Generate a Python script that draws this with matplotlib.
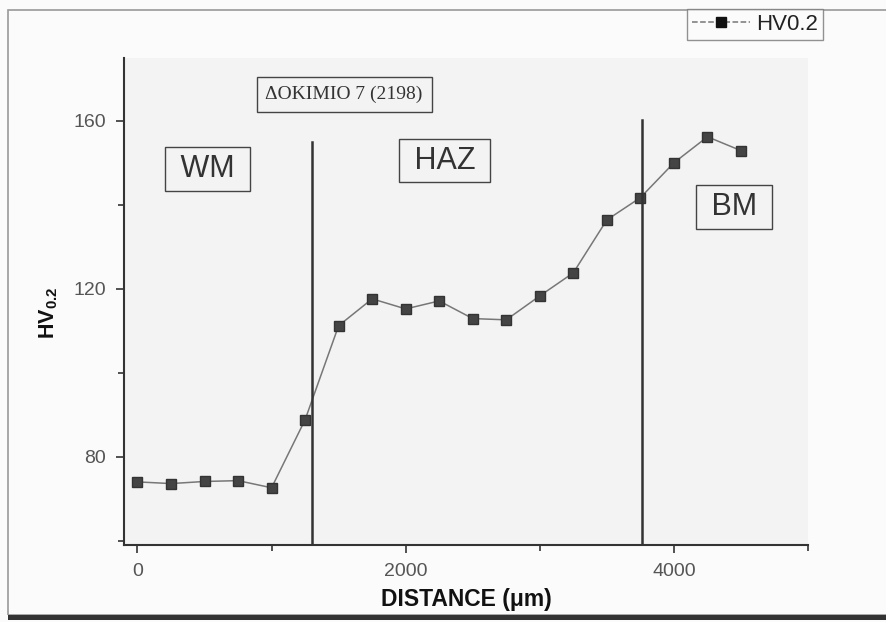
import numpy as np
import matplotlib
matplotlib.use("Agg")
import matplotlib.pyplot as plt
from matplotlib.ticker import MultipleLocator

# data
distance = [0, 250, 500, 750, 1000, 1250, 1500, 1750, 2000, 2250,
            2500, 2750, 3000, 3250, 3500, 3750, 4000, 4250, 4500]
hv = [74.0, 73.6, 74.1, 74.3, 72.6, 88.8, 111.2, 117.6, 115.2, 117.1,
      112.9, 112.6, 118.3, 123.8, 136.4, 141.7, 150.0, 156.2, 152.9]
zone_bounds = [1300, 3760]
zone_tops = [155, 160.3]
zone_names = ["WM", "HAZ", "BM"]
zone_label_x = [522, 2291, 4448]
zone_label_y = [148.5, 150.5, 139.5]
sample_title = "ΔOKIMIO 7 (2198)"

plt.rcParams['font.family'] = ['Liberation Sans', 'DejaVu Sans']

fig = plt.figure(figsize=(8.86, 6.22), dpi=100, facecolor='#fbfbfb')
ax = fig.add_axes([0.140, 0.124, 0.772, 0.783])
ax.set_facecolor('#f3f3f3')

ax.plot(distance, hv, '-', color='#777777', lw=1.1, marker='s',
        markersize=7, markerfacecolor='#444444', markeredgecolor='#333333',
        label='HV0.2')

for xb, yt in zip(zone_bounds, zone_tops):
    ax.plot([xb, xb], [59, yt], color='#333333', lw=1.8)

ax.set_xlim(-100, 5000)
ax.set_ylim(59, 175)
ax.xaxis.set_major_locator(MultipleLocator(2000))
ax.xaxis.set_minor_locator(MultipleLocator(1000))
ax.yaxis.set_major_locator(MultipleLocator(40))
ax.yaxis.set_minor_locator(MultipleLocator(20))

for s in ['top', 'right']:
    ax.spines[s].set_visible(False)
for s in ['left', 'bottom']:
    ax.spines[s].set_color('#333333')
    ax.spines[s].set_linewidth(1.5)

ax.tick_params(which='both', direction='out', color='#333333', width=1.2)
ax.tick_params(which='major', length=6, labelsize=14, labelcolor='#555555', pad=7)
ax.tick_params(which='minor', length=4)

ax.set_xlabel("DISTANCE (μm)", fontsize=16.5, fontweight='bold', color='#111111')
ax.xaxis.set_label_coords(0.5, -0.088)
ax.set_ylabel(r"HV$_{\mathregular{0.2}}$", fontsize=15.5, fontweight='bold', color='#111111')
ax.yaxis.set_label_coords(-0.093, 0.476)

ax.text(1541, 166.3, sample_title, fontsize=14, family=['Liberation Serif'],
        ha='center', va='center', color='#333333',
        bbox=dict(boxstyle='square,pad=0.45', facecolor='none', edgecolor='#444444', lw=1.0))
for name, lx, ly in zip(zone_names, zone_label_x, zone_label_y):
    ax.text(lx, ly, " " + name + " ", fontsize=22, ha='center', va='center',
            color='#333333',
            bbox=dict(boxstyle='square,pad=0.22', facecolor='none', edgecolor='#444444', lw=1.0))

leg = fig.legend(loc='upper right', bbox_to_anchor=(0.929, 0.9855), fontsize=16,
                 frameon=True, fancybox=False, handlelength=2.6, handletextpad=0.3,
                 borderpad=0.22, borderaxespad=0.0)
leg.get_frame().set_edgecolor('#777777')
leg.get_frame().set_facecolor('#fbfbfb')
h = leg.get_lines()[0]
h.set_linestyle('--')
h.set_markerfacecolor('#111111')
h.set_markeredgecolor('#111111')
for t in leg.get_texts():
    t.set_color('#222222')

# scan frame
fig.patches.append(plt.Rectangle((0.009, 0.012), 1.2, 0.972, transform=fig.transFigure,
                                 fill=False, edgecolor='#999999', lw=1.2))
fig.patches.append(plt.Rectangle((0.009, 0.003), 1.0, 0.009, transform=fig.transFigure,
                                 facecolor='#333333', edgecolor='none'))

fig.savefig("out.png", dpi=100, facecolor=fig.get_facecolor())
